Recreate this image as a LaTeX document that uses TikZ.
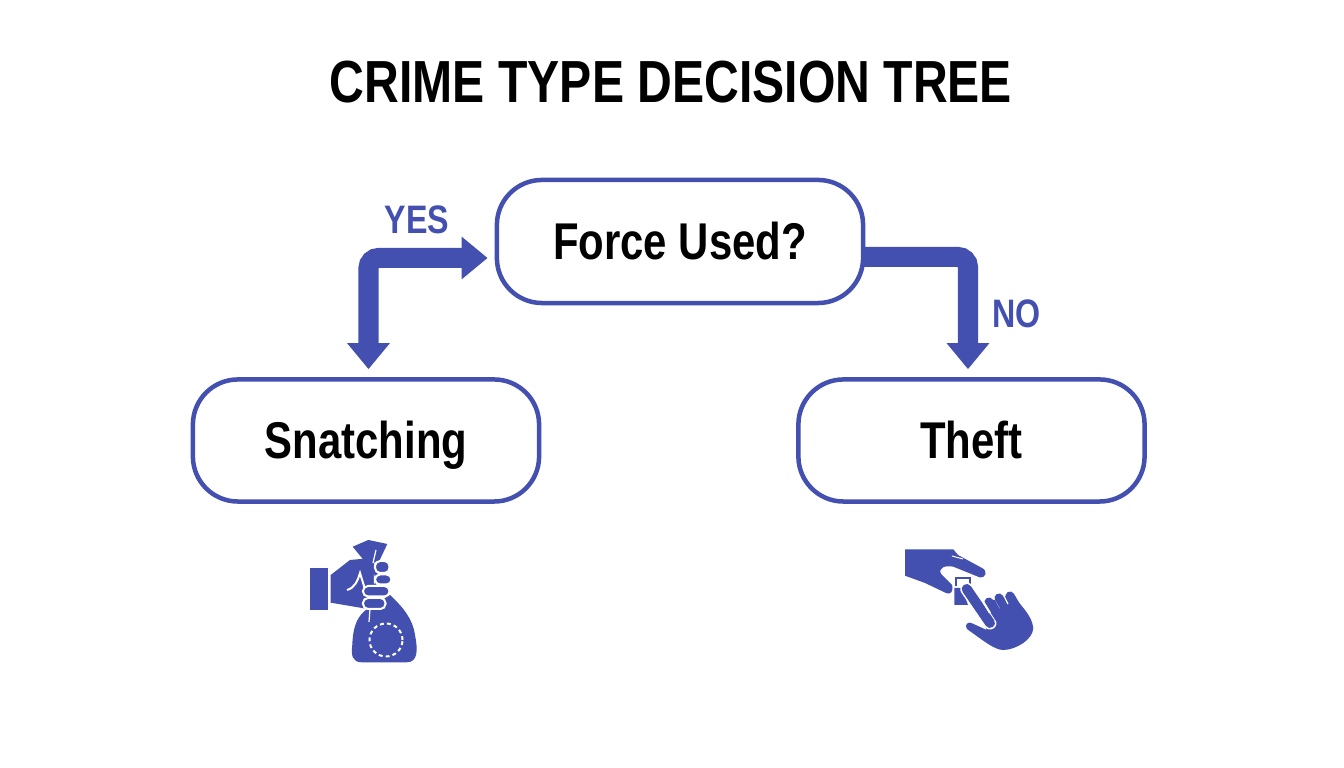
\documentclass[tikz,border=0pt]{standalone}
\usepackage{fontspec}
\setmainfont{Liberation Sans}[FakeStretch=0.81]
\usetikzlibrary{arrows.meta}
\colorlet{background}{white}
\definecolor{penColor}{HTML}{4350B0}
\tikzset{>={Triangle[length=.26cm,width=.41cm]},
  decision/.style={draw=penColor,line width=.045cm,fill=background,rounded corners=.45cm,
    minimum width=3.46cm,minimum height=1.22cm,text=black,text height=.37cm,text depth=0cm,
    font=\fontsize{14.7}{16}\selectfont\bfseries},
  branch/.style={draw=penColor,line width=.2cm,rounded corners=.1cm},
  branchText/.style={text=penColor,font=\fontsize{11.3}{14}\selectfont\bfseries},
  iconPart/.style={fill=penColor,draw=none},
  iconGap/.style={draw=background,line width=.02cm},
  fingerPart/.style={fill=penColor,draw=background,line width=.02cm,rounded corners=.05cm}}

\begin{document}
\begin{tikzpicture}[x=.01cm,y=-.01cm]
    \useasboundingbox[fill=background] (0,0) rectangle (1344,768);

    \node[text=black,font=\fontsize{16.9}{20}\selectfont\bfseries] (title) at (671,82) {CRIME TYPE DECISION TREE};

    \node[decision,minimum width=3.66cm,minimum height=1.23cm] (force) at (680,241.5) {Force Used?};
    \node[decision,text width=2.04cm,align=center] (snatching) at (366,440.5) {Snatching};
    \node[decision] (theft) at (971.5,440.5) {Theft};

    \coordinate (yesEnd) at ([xshift=-.07cm,yshift=-.165cm]force.west);
    \coordinate (yesDown) at ([xshift=.025cm,yshift=.08cm]snatching.north);
    \coordinate (noStart) at ([xshift=-.03cm,yshift=-.155cm]force.east);
    \coordinate (noDown) at ([xshift=-.035cm,yshift=.08cm]theft.north);

    \draw[branch,<->] (yesEnd) -| (yesDown);
    \draw[branch,->] (noStart) -| (noDown);

    \node[branchText] (yes) at (417,220) {YES};
    \node[branchText] (no) at (1016.5,314) {NO};

    \path[iconPart] (310,568) rectangle (327.7,610);
    \path[iconPart] (330.7,575) -- (350,560) -- (372,558) -- (378,575) -- (372,610) -- (362,608) -- (330.7,602.7) -- cycle;
    \draw[iconGap] (347,590) .. controls (355,588) and (358,580) .. (360,573) .. controls (362,580) and (364,585) .. (365,590);
    \path[iconPart] (352.7,546.7) -- (368.3,540) -- (387.3,544) -- (378.3,563) -- (365,561.7) -- cycle;
    \draw[iconGap,line width=.012cm] (376,550) -- (373,563);
    \path[iconPart] (390,595) .. controls (404,608) and (413,620) .. (415,635) .. controls (418,650) and (418,662.3) .. (406.7,662.3)
      -- (361.7,662.3) .. controls (352,662.3) and (351,655) .. (352.3,645) .. controls (353,625) and (358,615) .. (368.3,608.3) -- cycle;
    \draw[fingerPart] (375,561) rectangle (389.5,573);
    \draw[fingerPart] (375,574.5) rectangle (391.5,584.5);
    \draw[fingerPart] (363,586) rectangle (389.5,596.5);
    \draw[fingerPart] (363,598) rectangle (385.5,609);
    \draw[iconGap,line width=.012cm] (370,609) -- (369,622);
    \draw[iconGap,dash pattern=on 1.1pt off .9pt] (386,640) circle [radius=.165cm];

    \path[iconPart] (905,549.3) -- (953.3,549.3) -- (958,555) -- (982,568) .. controls (988,571) and (986,578) .. (980,577.5)
      -- (953.3,566.7) .. controls (945,565) and (938,568) .. (941,574) -- (952,585) .. controls (954,592) and (950,595) .. (946,593)
      -- (925,583) -- (905,575.7) -- cycle;
    \draw[iconGap,line width=.01cm] (952,556) -- (963,559);
    \draw[penColor,line width=.02cm] (955.5,586) -- (955.5,578.5) -- (970,578.5) -- (970,584);
    \path[iconPart] (954.3,588) -- (962,588) -- (968,605) -- (954.3,605) -- cycle;

    \path[iconPart] (978.3,611.7) -- (988,602) -- (1000,598) -- (1012,594) .. controls (1020,605) and (1032,615) .. (1033.3,628)
      .. controls (1033,640) and (1015,650) .. (1003.3,650) .. controls (995,650) and (985,642) .. (967,629)
      .. controls (964,625) and (968,621) .. (972,623.3) -- (986.7,630) -- cycle;
    \draw[background,line width=.13cm,line cap=round] (966.7,589) -- (990,623);
    \draw[penColor,line width=.1cm,line cap=round] (966.7,589) -- (990,623);
    \draw[penColor,line width=.09cm,line cap=round] (989,602) -- (1002,622);
    \draw[iconGap] (990,613) -- (984,603);
    \draw[background,line width=.012cm] (1000,608) -- (994,597);
    \draw[penColor,line width=.09cm,line cap=round] (999,598) -- (1012,620);
    \draw[background,line width=.012cm] (1008,604) -- (1004,596);
    \draw[penColor,line width=.09cm,line cap=round] (1010,596) -- (1024,620);

  \end{tikzpicture}
\end{document}
